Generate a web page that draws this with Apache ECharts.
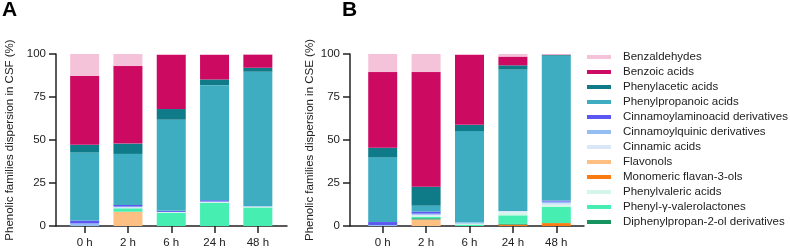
<!DOCTYPE html>
<html>
<head>
<meta charset="utf-8">
<script src="https://cdn.jsdelivr.net/npm/echarts@6/dist/echarts.min.js"></script>
<style>
  html, body { margin: 0; padding: 0; background: #fff; }
  #chart { width: 790px; height: 250px; }
</style>
</head>
<body>
<div id="chart"></div>
<script>
const timepoints = ["0 h", "2 h", "6 h", "24 h", "48 h"];
const yTicks = [0, 25, 50, 75, 100];

// legend order (top to bottom)
const familyNames = [
  "Benzaldehydes",
  "Benzoic acids",
  "Phenylacetic acids",
  "Phenylpropanoic acids",
  "Cinnamoylaminoacid derivatives",
  "Cinnamoylquinic derivatives",
  "Cinnamic acids",
  "Flavonols",
  "Monomeric flavan-3-ols",
  "Phenylvaleric acids",
  "Phenyl-\u03b3-valerolactones",
  "Diphenylpropan-2-ol derivatives",
];
const familyColors = [
  "#f5c3d9", "#cd0a62", "#0f7b89", "#3fadc1", "#5b57f2", "#93bdf3",
  "#d9e7f9", "#fdbf82", "#fa7b14", "#d3f6e8", "#46efb1", "#16935f",
];
// stacking order, bottom to top
const stackOrder = [
  "Flavonols",
  "Monomeric flavan-3-ols",
  "Diphenylpropan-2-ol derivatives",
  "Phenyl-\u03b3-valerolactones",
  "Phenylvaleric acids",
  "Cinnamic acids",
  "Cinnamoylquinic derivatives",
  "Cinnamoylaminoacid derivatives",
  "Phenylpropanoic acids",
  "Phenylacetic acids",
  "Benzoic acids",
  "Benzaldehydes",
];

// CSF (panel A), % per timepoint
const csfBenzaldehydes = [12.6, 7.0, 0.5, 0.5, 0.3];
const csfBenzoic = [40.2, 45.1, 31.5, 14.3, 7.7];
const csfPhenylacetic = [4.5, 6.0, 6.2, 3.3, 2.3];
const csfPhenylpropanoic = [39.5, 29.7, 53.0, 66.9, 78.1];
const csfCinnamoylamino = [1.7, 0.9, 0.6, 0.8, 0];
const csfCinnamoylquinic = [1.5, 0.4, 0, 0, 0.4];
const csfCinnamic = [0, 0.3, 0.2, 0.3, 0];
const csfFlavonols = [0, 8.3, 0, 0, 0];
const csfFlavan3ols = [0, 0, 0, 0, 0];
const csfPhenylvaleric = [0, 0.3, 0.3, 0.4, 0.4];
const csfValerolactones = [0, 2.0, 7.7, 13.5, 10.8];
const csfDiphenylpropanol = [0, 0, 0, 0, 0];

// CSE (panel B), % per timepoint
const cseBenzaldehydes = [10.5, 10.5, 0.5, 1.5, 0.3];
const cseBenzoic = [44.0, 66.7, 40.7, 5.1, 0.2];
const csePhenylacetic = [5.6, 11.0, 3.6, 2.5, 0.5];
const csePhenylpropanoic = [37.6, 3.4, 53.2, 82.2, 84.2];
const cseCinnamoylamino = [1.7, 1.2, 0, 0, 0.6];
const cseCinnamoylquinic = [0.6, 0.7, 0.6, 0, 1.0];
const cseCinnamic = [0, 0.6, 0, 0.9, 1.0];
const cseFlavonols = [0, 3.8, 0, 0, 0];
const cseFlavan3ols = [0, 0, 0, 0.8, 1.7];
const csePhenylvaleric = [0, 0.6, 0.6, 1.6, 1.0];
const cseValerolactones = [0, 0.8, 0.8, 5.0, 9.5];
const cseDiphenylpropanol = [0, 0.7, 0, 0.4, 0];

const csfData = [
  csfBenzaldehydes, csfBenzoic, csfPhenylacetic, csfPhenylpropanoic,
  csfCinnamoylamino, csfCinnamoylquinic, csfCinnamic, csfFlavonols,
  csfFlavan3ols, csfPhenylvaleric, csfValerolactones, csfDiphenylpropanol,
];
const cseData = [
  cseBenzaldehydes, cseBenzoic, csePhenylacetic, csePhenylpropanoic,
  cseCinnamoylamino, cseCinnamoylquinic, cseCinnamic, cseFlavonols,
  cseFlavan3ols, csePhenylvaleric, cseValerolactones, cseDiphenylpropanol,
];

const FONT = "Liberation Sans, Arial, sans-serif";
const INK = "#222";

// each panel: one grid for the axis frame, one for the bars
const panels = [
  { axisLeft: 56, axisWidth: 231, barLeft: 63, barWidth: 216.5, name: "Phenolic families dispersion in CSF (%)", data: csfData, stack: "csf" },
  { axisLeft: 350, axisWidth: 234, barLeft: 361, barWidth: 217, name: "Phenolic families dispersion in CSE (%)", data: cseData, stack: "cse" },
];

const grids = [];
const xAxes = [];
const yAxes = [];
const series = [];

panels.forEach((p, i) => {
  const frame = i * 2;
  const bars = i * 2 + 1;
  grids.push({ left: p.axisLeft, top: 54, width: p.axisWidth, height: 172 });
  grids.push({ left: p.barLeft, top: 54, width: p.barWidth, height: 172 });

  xAxes.push({
    gridIndex: frame, type: "value", min: 0, max: 1,
    axisLine: { show: true, onZero: false, lineStyle: { color: INK, width: 1.5 } },
    axisTick: { show: false }, axisLabel: { show: false }, splitLine: { show: false },
  });
  xAxes.push({
    gridIndex: bars, type: "category", data: timepoints,
    axisLine: { show: false },
    axisTick: { show: true, alignWithLabel: true, length: 7, lineStyle: { color: INK, width: 1.5 } },
    axisLabel: { margin: 11, color: INK, fontSize: 11.5, fontFamily: FONT },
  });

  yAxes.push({
    gridIndex: frame, type: "value", min: yTicks[0], max: yTicks[yTicks.length - 1], interval: 25,
    axisLine: { show: true, lineStyle: { color: INK, width: 1.5 } },
    axisTick: { show: true, length: 7, lineStyle: { color: INK, width: 1.5 } },
    axisLabel: { margin: 10, color: INK, fontSize: 11.5, fontFamily: FONT },
    splitLine: { show: false },
    name: p.name, nameLocation: "middle", nameGap: i === 0 ? 40 : 34,
    nameTextStyle: { color: INK, fontSize: 11.5, fontFamily: FONT },
  });
  yAxes.push({ gridIndex: bars, type: "value", min: 0, max: 100, show: false });

  stackOrder.forEach((fam) => {
    const k = familyNames.indexOf(fam);
    series.push({
      name: fam,
      type: "bar",
      stack: p.stack,
      xAxisIndex: bars,
      yAxisIndex: bars,
      barWidth: 29,
      itemStyle: { color: familyColors[k] },
      data: p.data[k],
    });
  });
});

const chart = echarts.init(document.getElementById("chart"));
chart.setOption({
  animation: false,
  backgroundColor: "#fff",
  textStyle: { fontFamily: FONT },
  title: [
    { text: "A", left: 2, top: 0, padding: 0, textStyle: { fontSize: 21, fontWeight: "bold", color: "#000", fontFamily: FONT } },
    { text: "B", left: 342, top: 0, padding: 0, textStyle: { fontSize: 21, fontWeight: "bold", color: "#000", fontFamily: FONT } },
  ],
  legend: {
    orient: "vertical",
    left: 587,
    top: 50,
    padding: 0,
    icon: "rect",
    itemWidth: 24,
    itemHeight: 4,
    itemGap: 1,
    data: familyNames,
    textStyle: { color: INK, fontSize: 11.5, lineHeight: 14, fontFamily: FONT, padding: [0, 0, 0, 7] },
  },
  grid: grids,
  xAxis: xAxes,
  yAxis: yAxes,
  series: series,
});
</script>
</body>
</html>
